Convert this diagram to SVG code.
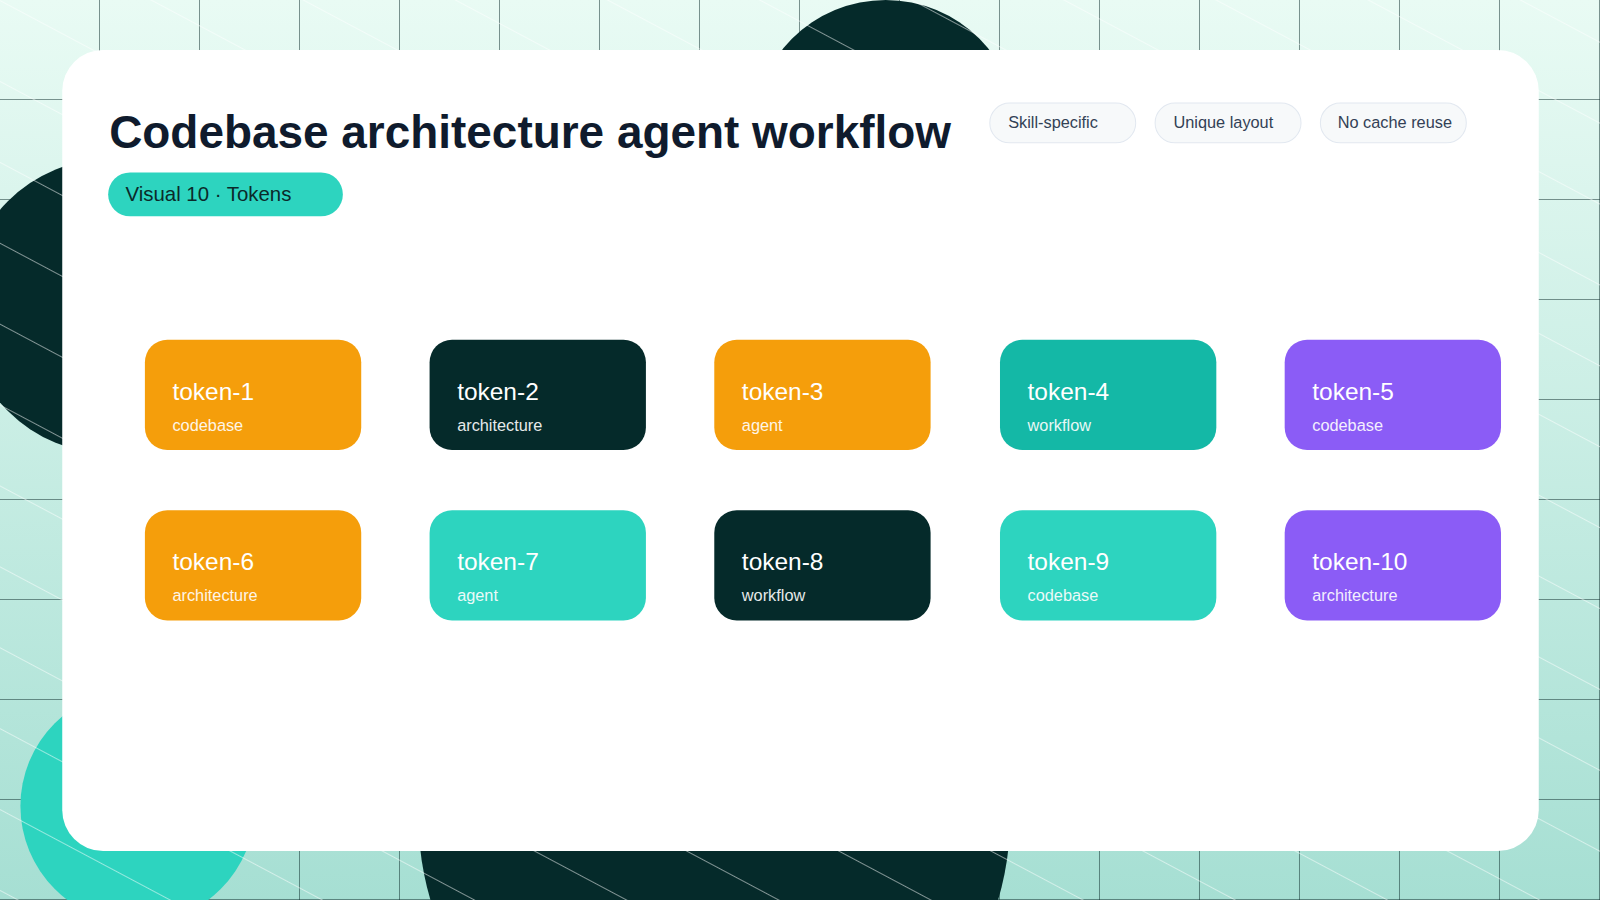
<svg xmlns="http://www.w3.org/2000/svg" width="1600" height="900" viewBox="0 0 1600 900">
<defs>
<linearGradient id="bg" x1="0" y1="0" x2="0" y2="1"><stop offset="0" stop-color="#e9fbf4"/><stop offset="1" stop-color="#a6dfd3"/></linearGradient>
<pattern id="grid" width="98" height="98" patternUnits="userSpaceOnUse"><path d="M98 0V98M0 98H98" stroke="#0b2a2a" stroke-width="1" fill="none"/></pattern>
<pattern id="diag" width="70" height="70" patternUnits="userSpaceOnUse" patternTransform="rotate(28)"><path d="M0 0H70" stroke="#ffffff" stroke-width="1.2"/></pattern>
<clipPath id="vp"><rect width="1568" height="882"/></clipPath>
</defs>
<style>
.t{font-family:"Liberation Sans",Arial,sans-serif}
.nt{font-size:24px;fill:#fff}
.ns{font-size:16px;fill:#fff;opacity:.9}
.tag rect{fill:#f7f9fa;stroke:#e2e8f0}
.tag text{font-size:16px;fill:#334155}
</style>
<g transform="scale(1.0204)" clip-path="url(#vp)">
<rect width="1568" height="882" fill="url(#bg)"/>
<rect width="1568" height="882" fill="url(#grid)"/>
<circle cx="868" cy="130" r="130" fill="#052a2a"/>
<circle cx="110" cy="300" r="145" fill="#052a2a"/>
<circle cx="700" cy="800" r="290" fill="#052a2a"/>
<circle cx="135" cy="790" r="115" fill="#2dd4bf"/>
<rect width="1568" height="882" fill="url(#diag)"/>
<rect x="61" y="49" width="1447" height="785" rx="40" fill="#fff"/>
<text class="t" x="107" y="145" font-size="45" font-weight="700" fill="#0f1b2d">Codebase architecture agent workflow</text>
<rect x="106" y="169" width="230" height="43" rx="21.5" fill="#2dd4bf"/>
<text class="t" x="123" y="197" font-size="20" fill="#0b2a2a">Visual 10 · Tokens</text>
<g class="tag t"><rect x="970" y="101" width="143" height="39" rx="19.5"/><text x="988" y="125">Skill-specific</text></g>
<g class="tag t"><rect x="1132" y="101" width="143" height="39" rx="19.5"/><text x="1150" y="125">Unique layout</text></g>
<g class="tag t"><rect x="1294" y="101" width="143" height="39" rx="19.5"/><text x="1311" y="125">No cache reuse</text></g>
<g id="connectors"/>
<g class="t">
<g id="token-1"><rect x="142" y="333" width="212" height="108" rx="22" fill="#f59e0b"/><text class="nt" x="169" y="392">token-1</text><text class="ns" x="169" y="422">codebase</text></g>
<g id="token-2"><rect x="421" y="333" width="212" height="108" rx="22" fill="#052a2a"/><text class="nt" x="448" y="392">token-2</text><text class="ns" x="448" y="422">architecture</text></g>
<g id="token-3"><rect x="700" y="333" width="212" height="108" rx="22" fill="#f59e0b"/><text class="nt" x="727" y="392">token-3</text><text class="ns" x="727" y="422">agent</text></g>
<g id="token-4"><rect x="980" y="333" width="212" height="108" rx="22" fill="#14b8a6"/><text class="nt" x="1007" y="392">token-4</text><text class="ns" x="1007" y="422">workflow</text></g>
<g id="token-5"><rect x="1259" y="333" width="212" height="108" rx="22" fill="#8b5cf6"/><text class="nt" x="1286" y="392">token-5</text><text class="ns" x="1286" y="422">codebase</text></g>
<g id="token-6"><rect x="142" y="500" width="212" height="108" rx="22" fill="#f59e0b"/><text class="nt" x="169" y="559">token-6</text><text class="ns" x="169" y="589">architecture</text></g>
<g id="token-7"><rect x="421" y="500" width="212" height="108" rx="22" fill="#2dd4bf"/><text class="nt" x="448" y="559">token-7</text><text class="ns" x="448" y="589">agent</text></g>
<g id="token-8"><rect x="700" y="500" width="212" height="108" rx="22" fill="#052a2a"/><text class="nt" x="727" y="559">token-8</text><text class="ns" x="727" y="589">workflow</text></g>
<g id="token-9"><rect x="980" y="500" width="212" height="108" rx="22" fill="#2dd4bf"/><text class="nt" x="1007" y="559">token-9</text><text class="ns" x="1007" y="589">codebase</text></g>
<g id="token-10"><rect x="1259" y="500" width="212" height="108" rx="22" fill="#8b5cf6"/><text class="nt" x="1286" y="559">token-10</text><text class="ns" x="1286" y="589">architecture</text></g>
</g>
</g>
</svg>
